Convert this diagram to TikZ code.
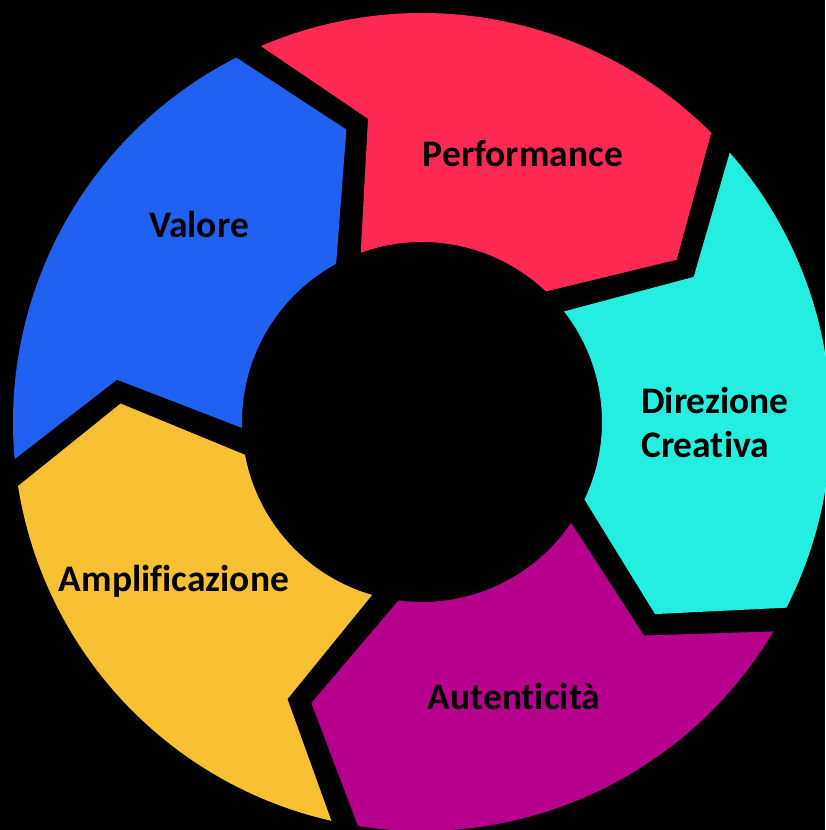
\documentclass[tikz,border=0pt]{standalone}
\usepackage{fontspec}
\setmainfont{Carlito}[Ligatures=CommonOff]
\definecolor{cblue}{HTML}{2161F2}
\definecolor{cred}{HTML}{FF2A53}
\definecolor{ccyan}{HTML}{24EEDF}
\definecolor{cpurple}{HTML}{B6008D}
\definecolor{cyellow}{HTML}{F8C133}
% #1 colour, #2 angle of the boundary where the segment starts (it runs clockwise 72 degrees)
\newcommand{\ringseg}[2]{%
  \pgfmathsetmacro{\segS}{#2}%
  \pgfmathsetmacro{\segE}{#2-72}%
  \fill[#1] ({\segS-3.8}:409pt)
    arc[start angle={\segS-3.8}, end angle={\segE}, radius=409pt]
    -- ({\segE-12.5}:302pt)
    -- ({\segE+1.5}:180pt)
    arc[start angle={\segE+1.5}, end angle={\segS-7.1}, radius=180pt]
    -- ({\segS-16.9}:308pt)
    -- cycle;
}
\begin{document}
\begin{tikzpicture}[
  lbl/.style={font=\bfseries\fontsize{37.5}{44}\selectfont, text=black, inner sep=0pt}
]
\fill[black] (0pt,0pt) rectangle (825pt,830pt);
\useasboundingbox (0pt,0pt) rectangle (825pt,830pt);
\begin{scope}[shift={(422pt,408pt)}]
  \ringseg{cblue}{189}
  \ringseg{cred}{117}
  \ringseg{ccyan}{45}
  \ringseg{cpurple}{-27}
  \ringseg{cyellow}{-99}
\end{scope}
\node[lbl, anchor=base] (perf) at (523pt,663pt) {Performance};
\node[lbl, anchor=base] (val) at (199pt,592pt) {Valore};
\node[lbl, anchor=north west, align=left] (dir) at (641pt,443pt) {Direzione\\Creativa};
\node[lbl, anchor=base] (amp) at (174pt,238pt) {Amplificazione};
\node[lbl, anchor=base] (aut) at (514pt,120pt) {Autenticità};
\end{tikzpicture}
\end{document}
